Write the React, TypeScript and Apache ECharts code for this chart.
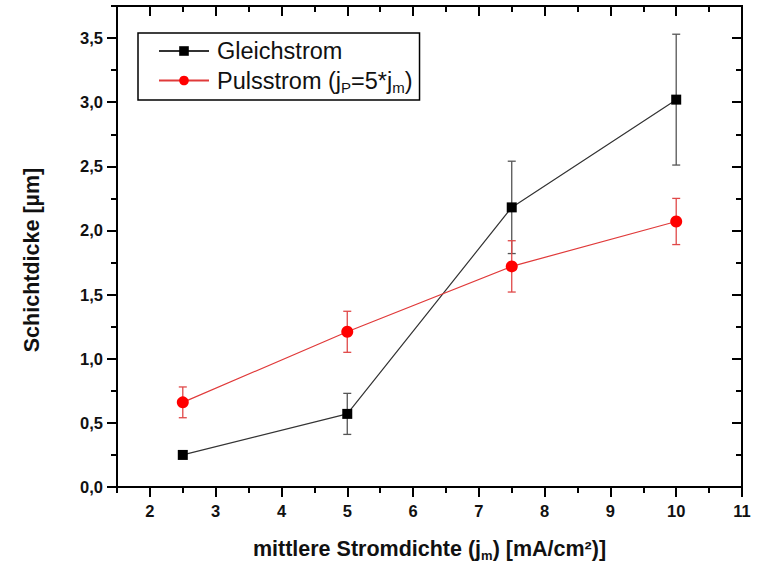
import React, { useEffect, useRef } from "react";
import * as echarts from "echarts";

const xValues = [2.5, 5, 7.5, 10];
const gleichMean = [0.25, 0.57, 2.18, 3.02];
const gleichErr = [0, 0.16, 0.36, 0.51];
const pulsMean = [0.66, 1.21, 1.72, 2.07];
const pulsErr = [0.12, 0.16, 0.2, 0.18];
const xMajorTicks = [2, 3, 4, 5, 6, 7, 8, 9, 10, 11];
const xMinorTicks = [1.5, 2.5, 3.5, 4.5, 5.5, 6.5, 7.5, 8.5, 9.5, 10.5];
const yMajorTicks = [0, 0.5, 1, 1.5, 2, 2.5, 3, 3.5];
const yMinorTicks = [0.25, 0.75, 1.25, 1.75, 2.25, 2.75, 3.25, 3.75];

const FONT = "Liberation Sans, Arial, sans-serif";

export default function App() {
  const ref = useRef<HTMLDivElement>(null);
  useEffect(() => {
    const chart = echarts.init(ref.current!, null, { renderer: "svg" });
    const XMIN = 1.5, XMAX = 11, YMIN = 0, YMAX = 3.75;
    const axisLine = { show: true, onZero: false, lineStyle: { color: "#000", width: 2 } };
    const mkX = (pos: "bottom" | "top", ticks: number[], len: number, inside: boolean, labels: boolean, name?: string) => ({
      type: "value",
      position: pos,
      min: XMIN,
      max: XMAX,
      axisLine,
      splitLine: { show: false },
      axisTick: { show: true, customValues: ticks, length: len, inside, lineStyle: { color: "#000", width: 2 } },
      axisLabel: labels
        ? { show: true, customValues: xMajorTicks, margin: 15, fontSize: 16.5, fontWeight: "bold", color: "#111", fontFamily: FONT }
        : { show: false },
      name: name || "",
      nameLocation: "middle",
      nameGap: 49,
      nameTextStyle: {
        fontSize: 21.5, fontWeight: "bold", color: "#111", fontFamily: FONT,
        rich: {
          n: { fontSize: 21.5, fontWeight: "bold", color: "#111", fontFamily: FONT, lineHeight: 26 },
          s: { fontSize: 13, fontWeight: "bold", color: "#111", fontFamily: FONT, lineHeight: 13, padding: [13, 0, 0, 0] },
        },
      },
    });
    const mkY = (pos: "left" | "right", ticks: number[], len: number, inside: boolean, labels: boolean) => ({
      type: "value",
      position: pos,
      min: YMIN,
      max: YMAX,
      axisLine,
      splitLine: { show: false },
      axisTick: { show: true, customValues: ticks, length: len, inside, lineStyle: { color: "#000", width: 2 } },
      axisLabel: labels
        ? {
            show: true, customValues: yMajorTicks, margin: 14, fontSize: 16.5, fontWeight: "bold", color: "#111", fontFamily: FONT,
            formatter: (v: number) => v.toFixed(1).replace(".", ","),
          }
        : { show: false },
    });

    const errData = (means: number[], errs: number[]) =>
      xValues.map((x, i) => [x, means[i] - errs[i], means[i] + errs[i]]).filter((_, i) => errs[i] > 0);

    const errSeries = (name: string, data: number[][], color: string) => ({
      type: "custom",
      name,
      xAxisIndex: 0,
      yAxisIndex: 0,
      silent: true,
      z: 1,
      data,
      renderItem: (params: any, api: any) => {
        const x = api.value(0);
        const lo = api.coord([x, api.value(1)]);
        const hi = api.coord([x, api.value(2)]);
        const w = 4;
        const style = { stroke: color, lineWidth: 1.3 };
        return {
          type: "group",
          children: [
            { type: "line", shape: { x1: lo[0], y1: lo[1], x2: hi[0], y2: hi[1] }, style },
            { type: "line", shape: { x1: lo[0] - w, y1: lo[1], x2: lo[0] + w, y2: lo[1] }, style },
            { type: "line", shape: { x1: hi[0] - w, y1: hi[1], x2: hi[0] + w, y2: hi[1] }, style },
          ],
        };
      },
    });

    const PULS = "Pulsstrom";
    chart.setOption({
      animation: false,
      backgroundColor: "#fff",
      grid: { left: 117, right: 23, top: 6, bottom: 79, containLabel: false, outerBoundsMode: "none" },
      xAxis: [
        mkX("bottom", xMajorTicks, 10, false, true, "{n|mittlere Stromdichte (j}{s|m}{n|) [mA/cm²)]}"),
        mkX("bottom", xMinorTicks, 6, false, false),
        mkX("top", xMajorTicks, 10, true, false),
        mkX("top", xMinorTicks, 6, true, false),
      ],
      yAxis: [
        mkY("left", yMajorTicks, 10, false, true),
        mkY("left", yMinorTicks, 6, false, false),
        mkY("right", yMajorTicks, 10, true, false),
        mkY("right", yMinorTicks, 6, true, false),
      ],
      graphic: [
        {
          type: "text",
          x: 32,
          y: 260,
          rotation: Math.PI / 2,
          style: {
            text: "Schichtdicke [µm]",
            fontSize: 21.5,
            fontWeight: "bold",
            fill: "#111",
            fontFamily: FONT,
            align: "center",
            verticalAlign: "middle",
          },
        },
      ],
      legend: {
        show: true,
        orient: "vertical",
        left: 138,
        top: 33,
        data: ["Gleichstrom", PULS],
        borderColor: "#000",
        borderWidth: 1.5,
        borderRadius: 0,
        padding: [6, 7, 5, 20],
        itemGap: 3,
        itemWidth: 50,
        itemHeight: 12,
        textStyle: {
          fontSize: 23.5, color: "#111", fontFamily: FONT,
          rich: {
            f: { fontSize: 23.5, color: "#111", fontFamily: FONT, lineHeight: 29, padding: [0, 0, 0, 3] },
            n: { fontSize: 23.5, color: "#111", fontFamily: FONT, lineHeight: 29 },
            s: { fontSize: 15, color: "#111", fontFamily: FONT, lineHeight: 15, padding: [14, 0, 0, 0] },
          },
        },
        formatter: (name: string) =>
          name === PULS ? "{f|Pulsstrom (j}{s|P}{n|=5*j}{s|m}{n|)}" : "{f|" + name + "}",
      },
      series: [
        errSeries("errG", errData(gleichMean, gleichErr), "#555"),
        errSeries("errP", errData(pulsMean, pulsErr), "#e04848"),
        {
          name: "Gleichstrom",
          type: "line",
          xAxisIndex: 0,
          yAxisIndex: 0,
          data: xValues.map((x, i) => [x, gleichMean[i]]),
          symbol: "rect",
          symbolSize: 10,
          lineStyle: { color: "#333", width: 1.2 },
          itemStyle: { color: "#000" },
          z: 3,
        },
        {
          name: PULS,
          type: "line",
          xAxisIndex: 0,
          yAxisIndex: 0,
          data: xValues.map((x, i) => [x, pulsMean[i]]),
          symbol: "circle",
          symbolSize: 12,
          lineStyle: { color: "#e03a3a", width: 1.2 },
          itemStyle: { color: "#ff0000" },
          z: 3,
        },
      ],
    } as any);
    return () => chart.dispose();
  }, []);
  return <div ref={ref} style={{ width: 765, height: 566, position: "absolute", left: 0, top: 0 }} />;
}
